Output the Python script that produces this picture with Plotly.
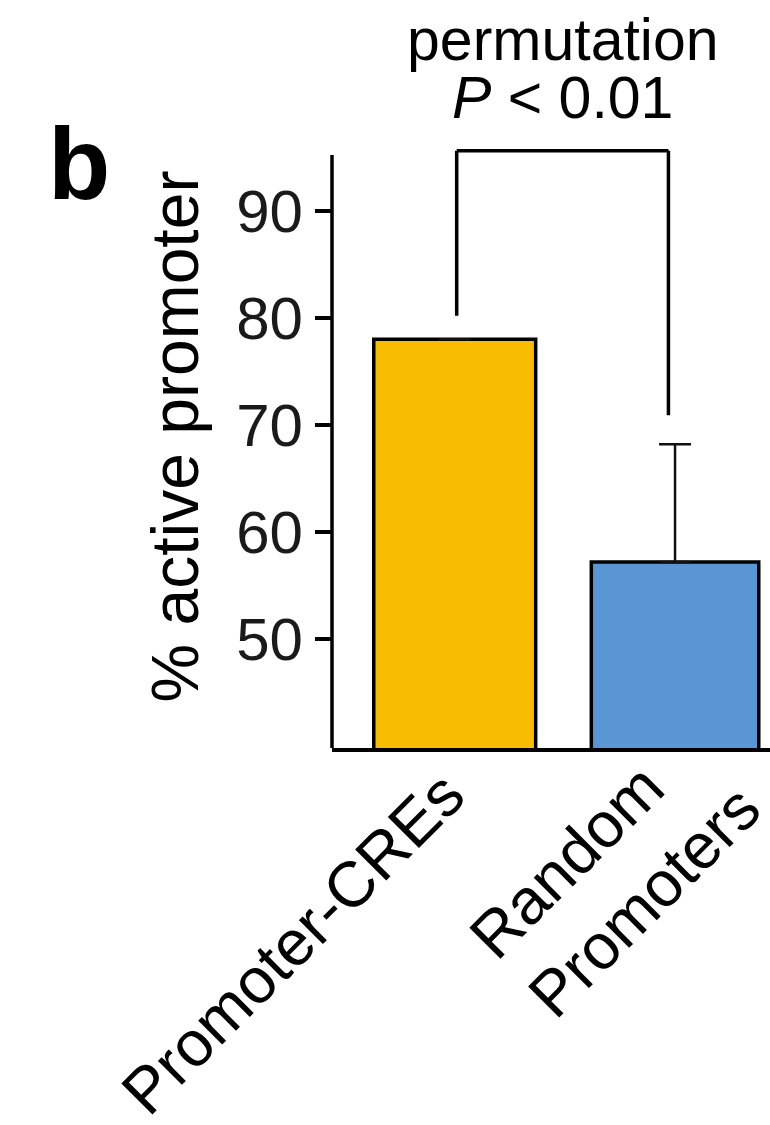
import plotly.graph_objects as go

# Data
categories = ["Promoter-CREs", "Random<br>Promoters"]
pct_active = [78.0, 57.2]
err_upper = [0.0, 11.0]
bar_colors = ["#F8BD00", "#5B96D4"]
y_ticks = [50, 60, 70, 80, 90]
sig_line1 = "permutation"
sig_line2 = "<i>P</i> &lt; 0.01"
y_title = "% active promoter"
panel_letter = "b"

FONT = "Liberation Sans, Arial, sans-serif"
W, H = 770, 1125
ML, MR, MT, MB = 332, 0, 125, 377
Y_MIN, Y_MAX = 39.84, 98.0
X_MIN, X_MAX = -0.557, 1.431
SPINE_TOP = 95.2
LW = 3.5

xs = list(range(len(categories)))

fig = go.Figure()
fig.add_trace(go.Bar(
    x=xs,
    y=pct_active,
    width=[0.735, 0.76],
    marker=dict(color=bar_colors, line=dict(color="black", width=LW)),
    error_y=dict(type="data", symmetric=False, array=err_upper,
                 arrayminus=[0, 0], color="#111111", thickness=2.5, width=16),
    showlegend=False,
))

# y-axis spine (stops below the bracket)
fig.add_shape(type="line", xref="paper", yref="y", x0=0, x1=0,
              y0=Y_MIN, y1=SPINE_TOP, line=dict(color="black", width=LW))

# significance bracket
left_x = xs[0] + 0.009
right_x = xs[1] - 0.03
bracket_top = 95.6
left_bottom = pct_active[0] + 2.2
right_bottom = pct_active[1] + err_upper[1] + 2.7
for x0, y0, x1, y1 in [
    (left_x, left_bottom, left_x, bracket_top),
    (left_x, bracket_top, right_x, bracket_top),
    (right_x, bracket_top, right_x, right_bottom),
]:
    fig.add_shape(type="line", xref="x", yref="y", x0=x0, y0=y0, x1=x1, y1=y1,
                  line=dict(color="black", width=LW))

mid_x = (left_x + right_x) / 2
for txt, cy in [(sig_line1, 40), (sig_line2, 98)]:
    fig.add_annotation(x=mid_x, xref="x", y=1, yref="paper", yshift=MT - cy,
                       text=txt, showarrow=False, xanchor="center",
                       yanchor="middle",
                       font=dict(family=FONT, size=59, color="black"))

# panel letter
fig.add_annotation(x=0, xref="paper", xshift=79 - ML, y=1, yref="paper",
                   yshift=MT - 164, text=f"<b>{panel_letter}</b>", showarrow=False,
                   xanchor="center", yanchor="middle",
                   font=dict(family=FONT, size=102, color="black"))

# y-axis title
fig.add_annotation(x=0, xref="paper", xshift=174 - ML, y=0.5, yref="paper",
                   text=y_title, textangle=-90, showarrow=False,
                   xanchor="center", yanchor="middle",
                   font=dict(family=FONT, size=66, color="black"))

# rotated category labels
label_shift = [(-162, -195), (-61, -124)]
for i, (lab, (dx, dy)) in enumerate(zip(categories, label_shift)):
    fig.add_annotation(x=xs[i], xref="x", y=0, yref="paper", xshift=dx, yshift=dy,
                       text=lab, textangle=-45, showarrow=False, align="left",
                       xanchor="center", yanchor="middle",
                       font=dict(family=FONT, size=64, color="black"))

fig.update_layout(
    width=W, height=H,
    margin=dict(l=ML, r=MR, t=MT, b=MB, pad=0),
    plot_bgcolor="white", paper_bgcolor="white",
    bargap=0.25,
    xaxis=dict(range=[X_MIN, X_MAX], showticklabels=False, ticks="",
               showgrid=False, zeroline=False, showline=True,
               linecolor="black", linewidth=LW),
    yaxis=dict(range=[Y_MIN, Y_MAX], tickvals=y_ticks, ticks="outside",
               ticklen=16, tickwidth=LW, tickcolor="black", showgrid=False,
               zeroline=False, showline=False,
               tickfont=dict(family=FONT, size=60, color="#1a1a1a")),
)

fig.write_html("out.html")
